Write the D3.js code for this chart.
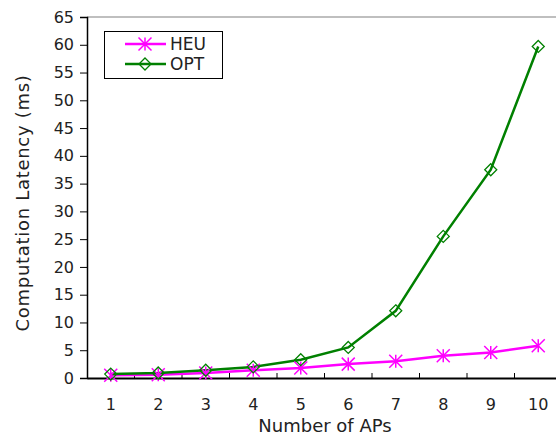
<!DOCTYPE html>
<html>
<head>
<meta charset="utf-8">
<script src="https://d3js.org/d3.v7.min.js"></script>
<style>
  body { margin: 0; background: #fff; }
  text { font-family: "DejaVu Sans", sans-serif; fill: #222; }
</style>
</head>
<body>
<script>
// data
const aps = ["1", "2", "3", "4", "5", "6", "7", "8", "9", "10"];
const heu = [0.5, 0.6, 0.9, 1.4, 1.8, 2.5, 3.0, 4.0, 4.6, 5.8];
const opt = [0.7, 0.9, 1.4, 2.0, 3.3, 5.5, 12.1, 25.5, 37.5, 59.7];
const yTicks = d3.range(0, 66, 5);

const width = 556, height = 437;

const svg = d3.select("body").append("svg")
    .attr("width", width)
    .attr("height", height);

// scales
const x = d3.scaleBand().domain(aps).range([87, 562]);
const y = d3.scaleLinear().domain([0, 65]).range([378, 17]);
const cx = d => x(d) + x.bandwidth() / 2;

// top frame line
svg.append("line")
    .attr("x1", 87).attr("x2", width)
    .attr("y1", y(65)).attr("y2", y(65))
    .attr("stroke", "#aaa").attr("stroke-width", 1.5);

// y axis
const yAxis = svg.append("g")
    .attr("transform", "translate(87,0)")
    .call(d3.axisLeft(y).tickValues(yTicks).tickSize(7).tickPadding(6));
yAxis.select(".domain").attr("stroke", "#000").attr("stroke-width", 1.5);
yAxis.selectAll("line").attr("stroke", "#000");
yAxis.selectAll("text").style("font-size", "16px").attr("fill", "#222");

// x axis
const xAxis = svg.append("g")
    .attr("transform", "translate(0,378)")
    .call(d3.axisBottom(x).tickSize(0).tickPadding(21));
xAxis.select(".domain").attr("stroke", "#000").attr("stroke-width", 2);
xAxis.selectAll("text").style("font-size", "16px").attr("fill", "#222");
// boundary ticks (inward)
xAxis.selectAll(".bt")
    .data(aps.slice(1))
    .enter().append("line")
    .attr("x1", d => x(d)).attr("x2", d => x(d))
    .attr("y1", 0).attr("y2", -5)
    .attr("stroke", "#000");

// titles
svg.append("text")
    .attr("x", 325).attr("y", 432)
    .attr("text-anchor", "middle")
    .style("font-size", "18px")
    .text("Number of APs");

svg.append("text")
    .attr("transform", "translate(29,203) rotate(-90)")
    .attr("text-anchor", "middle")
    .style("font-size", "18px")
    .style("letter-spacing", "0.7px")
    .text("Computation Latency (ms)");

// lines
const line = d3.line()
    .x((d, i) => cx(aps[i]))
    .y(d => y(d));

svg.append("path").datum(heu)
    .attr("d", line).attr("fill", "none")
    .attr("stroke", "#ff00ff").attr("stroke-width", 2.5);

svg.append("path").datum(opt)
    .attr("d", line).attr("fill", "none")
    .attr("stroke", "#008000").attr("stroke-width", 2.5);

// markers
function asterisk(g, px, py) {
    const s = 6.5;
    g.append("path")
        .attr("d", `M${px - s},${py - s}L${px + s},${py + s}M${px - s},${py + s}L${px + s},${py - s}M${px},${py - s}L${px},${py + s}`)
        .attr("stroke", "#ff00ff").attr("stroke-width", 1.5).attr("fill", "none");
}
function diamond(g, px, py) {
    const s = 6;
    g.append("path")
        .attr("d", `M${px},${py - s}L${px + s},${py}L${px},${py + s}L${px - s},${py}Z`)
        .attr("stroke", "#008000").attr("stroke-width", 1.3).attr("fill", "none");
}

const mk = svg.append("g");
heu.forEach((v, i) => asterisk(mk, cx(aps[i]), y(v)));
opt.forEach((v, i) => diamond(mk, cx(aps[i]), y(v)));

// legend
const lg = svg.append("g");
lg.append("rect")
    .attr("x", 104.5).attr("y", 31.5)
    .attr("width", 118).attr("height", 47)
    .attr("fill", "#fff").attr("stroke", "#000");
const items = [["HEU", "#ff00ff", asterisk], ["OPT", "#008000", diamond]];
items.forEach((it, i) => {
    const ly = 44 + i * 20;
    lg.append("line")
        .attr("x1", 125).attr("x2", 166)
        .attr("y1", ly).attr("y2", ly)
        .attr("stroke", it[1]).attr("stroke-width", 2.5);
    it[2](lg, 145, ly);
    lg.append("text")
        .attr("x", 170).attr("y", ly + 6)
        .style("font-size", "17px")
        .text(it[0]);
});
</script>
</body>
</html>
